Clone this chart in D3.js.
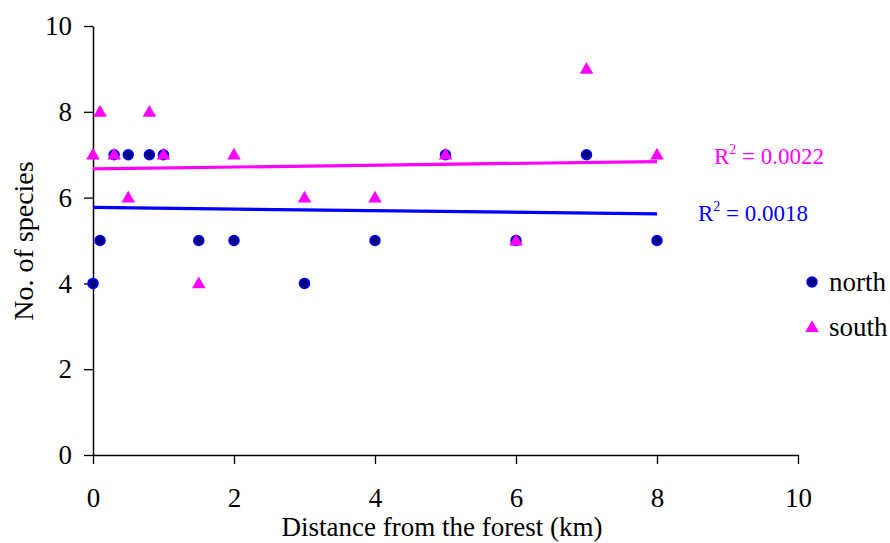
<!DOCTYPE html>
<html><head><meta charset="utf-8">
<script src="https://cdn.jsdelivr.net/npm/d3@7"></script>
<style>body{margin:0;background:#fff}svg{display:block}text{font-family:"Liberation Serif","Times New Roman",serif}</style>
</head><body><svg id="c" width="890" height="543"></svg>
<script>
const xTicks=[0,2,4,6,8,10];
const yTicks=[0,2,4,6,8,10];
const northX=[0,0.1,0.3,0.5,0.8,1,1.5,2,3,4,5,6,7,8];
const northY=[4,5,7,7,7,7,5,5,4,5,7,5,7,5];
const southX=[0,0.1,0.3,0.5,0.8,1,1.5,2,3,4,5,6,7,8];
const southY=[7,8,7,6,8,7,4,7,6,6,7,5,9,7];
const northTrend=[[0,5.77],[8,5.62]];
const southTrend=[[0,6.67],[8,6.84]];
const labels={north:"R\u00B2 = 0.0018",south:"R\u00B2 = 0.0022"};

const svg=d3.select("#c");
const x=d3.scaleLinear().domain([0,10]).range([93,798]);
const y=d3.scaleLinear().domain([0,10]).range([455,26]);
const blue="#0000ff", mag="#ff00ff";

const ya=svg.append("g").attr("transform","translate(93,0)")
 .call(d3.axisLeft(y).tickValues(yTicks).tickSize(9).tickPadding(12).tickSizeOuter(0));
const xa=svg.append("g").attr("transform","translate(0,455)")
 .call(d3.axisBottom(x).tickValues(xTicks).tickSize(9).tickPadding(24).tickSizeOuter(0));
[ya,xa].forEach(a=>{a.select(".domain").attr("stroke","#000").attr("stroke-width",1.5);
 a.selectAll(".tick line").attr("stroke","#000").attr("stroke-width",1.3);
 a.selectAll("text").attr("font-size",27).attr("fill","#000");});

const line=d3.line().x(d=>x(d[0])).y(d=>y(d[1]));
svg.append("path").attr("d",line(southTrend)).attr("stroke",mag).attr("stroke-width",3.2).attr("fill","none");
svg.append("path").attr("d",line(northTrend)).attr("stroke",blue).attr("stroke-width",3.2).attr("fill","none");

svg.append("g").selectAll("circle").data(northX.map((v,i)=>[v,northY[i]])).join("circle")
 .attr("cx",d=>x(d[0])).attr("cy",d=>y(d[1])).attr("r",5).attr("fill","#000080").attr("stroke",blue).attr("stroke-width",1.5);
const tri=d3.symbol().type(d3.symbolTriangle).size(80);
svg.append("g").selectAll("path").data(southX.map((v,i)=>[v,southY[i]])).join("path")
 .attr("d",tri).attr("transform",d=>`translate(${x(d[0])},${y(d[1])+1})`).attr("fill",mag);

function rlab(t,xp,yp,col){
 const tx=svg.append("text").attr("x",xp).attr("y",yp).attr("fill",col).attr("font-size",23);
 tx.append("tspan").text("R");
 tx.append("tspan").attr("dy",-10).attr("font-size",14).text("2");
 tx.append("tspan").attr("dy",10).text(" = "+t.split("= ")[1]);
}
rlab(labels.south,714,164,mag);
rlab(labels.north,698,221,blue);

svg.append("circle").attr("cx",812).attr("cy",282).attr("r",5).attr("fill","#000080").attr("stroke",blue).attr("stroke-width",1.5);
svg.append("text").attr("x",829).attr("y",291).attr("font-size",27).text("north");
svg.append("path").attr("d",tri).attr("transform","translate(812,328)").attr("fill",mag);
svg.append("text").attr("x",829).attr("y",336).attr("font-size",27).text("south");

svg.append("text").attr("x",442).attr("y",536).attr("text-anchor","middle").attr("font-size",27).text("Distance from the forest (km)");
svg.append("text").attr("transform","translate(33,241) rotate(-90)").attr("text-anchor","middle").attr("font-size",28).text("No. of species");
</script></body></html>
